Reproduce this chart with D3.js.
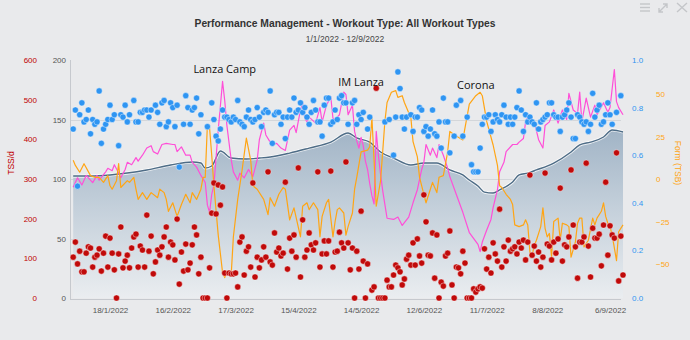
<!DOCTYPE html>
<html><head><meta charset="utf-8">
<script src="https://cdn.jsdelivr.net/npm/d3@7"></script>
<style>
html,body{margin:0;padding:0;background:#e9eaec;}
svg{display:block;font-family:"Liberation Sans",Arial,sans-serif;}
</style></head><body>
<svg id="chart" width="690" height="340"></svg>
<script>
// Season start; every series below is indexed in days since 1 Jan 2022.
const seasonStart = new Date(2022, 0, 1);
const seasonEnd = new Date(2022, 8, 12);

// Fitness (CTL)
const ctlDay = [0,8,17,25,34,45,55,59,61,64,68,73,80,86,91,100,109,119,127,131,137,142,148,156,162,168,174,180,183,187,190,194,197,203,206,210,214,222,230,234,239,245,249,254];
const ctlVal = [102.5,102.5,103.4,105,107.6,111.8,114.3,113.4,109.2,110.9,123.5,117.6,116.8,117.6,118.5,121.8,126,131,138.6,134.5,131,122.7,117.6,111.8,113.4,113.4,107.6,103.4,99.2,94.1,89,88.2,90.8,97.5,103.4,105,107.6,113.4,122.7,128.6,131,135.3,141.2,139.5];

// Fatigue (ATL)
const atlDay = [0,2,4,6,9,11,12,15,16,18,19,21,22,24,25,27,29,30,32,34,36,37,39,41,43,46,47,48,50,52,54,55,57,59,61,62,63,64,65,67,69,70,71,73,74,76,77,79,81,83,85,86,88,89,91,92,94,96,98,100,102,103,105,106,107,108,109,112,114,115,117,119,120,121,123,125,126,127,129,130,131,132,133,134,135,136,137,138,139,140,141,142,143,145,148,150,152,155,157,159,161,162,163,165,166,168,169,171,173,174,177,180,183,187,188,189,191,193,194,196,197,199,200,203,205,206,208,209,210,211,213,215,217,218,220,222,224,226,228,229,231,233,234,235,237,239,241,242,245,247,248,250,251,252,254];
const atlVal = [93,101,95,103,97,103,99,106,109,107,112,105,101,108,114,112,118,115,120,126,128,123,121,129,130,129,129,123,127,120,120,114,110,103,97,78,72,87,95,141,182,166,145,116,106,99,105,101,108,102,116,133,147,137,131,129,130,126,124,141,145,139,158,164,151,148,152,147,160,148,162,169,151,150,154,173,171,154,162,140,132,126,135,128,115,108,96,86,79,140,120,104,90,67,66,68,61,68,80,91,108,114,129,120,126,118,129,120,109,102,87,72,55,45,39,47,57,66,76,91,106,114,123,129,129,131,134,148,152,148,148,133,126,145,148,158,147,158,150,172,158,155,173,148,168,152,162,154,164,156,160,192,165,160,154];

// Form (TSB)
const tsbDay = [0,1,3,5,8,10,12,14,16,17,18,20,21,22,25,26,28,29,30,32,34,36,39,40,42,43,44,46,47,48,50,52,54,55,57,59,60,61,62,63,64,65,67,69,70,71,73,74,76,78,80,82,83,84,85,88,90,91,93,95,97,98,100,102,105,106,108,109,111,113,114,115,117,118,120,121,122,123,125,126,127,129,130,131,133,136,137,138,139,140,142,144,145,147,149,150,152,153,155,156,157,159,160,162,163,165,166,168,169,171,173,174,176,180,183,186,188,189,191,194,196,197,198,200,202,203,204,206,208,209,210,211,212,213,214,216,217,218,219,220,221,222,224,225,226,228,229,230,232,233,234,235,236,238,240,241,242,244,245,246,247,248,249,251,252,254];
const tsbVal = [11,8,4,9,2,1,1,-2,2,-4,-6,-1,9,-5,-1,-2,1,-6,-12,-8,-12,-8,-11,-6,-8,-12,-19,-14,-18,-22,-15,-9,-14,-8,-12,-6,1,1,32,30,14,-4,-33,-55,-58,-55,-56,-34,-12,5,24,11,-4,-5,-6,-12,-21,-11,-16,-9,-5,-6,-24,-17,-34,-16,-14,-18,-14,-18,-34,-22,-14,-12,-34,-25,-18,-17,-20,-33,-28,-20,-6,1,16,17,19,36,11,-16,-1,34,45,51,52,48,49,45,39,36,22,13,1,-9,-14,-6,-2,-8,1,2,16,28,26,23,44,49,51,49,34,20,8,-4,-5,-9,-12,-15,-27,-28,-27,-24,-27,-43,-45,-39,-36,-28,-17,-29,-34,-32,-46,-25,-23,-36,-26,-27,-28,-46,-37,-26,-23,-23,-40,-36,-23,-27,-23,-19,-14,-22,-26,-28,-33,-48,-31,-27];

// Daily training stress (TSS/d)
const tssDay = [0,1,2,3,4,5,6,7,8,9,10,11,12,13,14,15,16,17,18,19,20,21,22,23,24,25,26,27,28,29,30,31,32,33,34,35,36,37,38,39,40,41,42,43,44,45,46,47,48,49,50,51,52,53,54,55,56,57,58,59,60,61,62,63,64,65,66,67,68,69,70,71,72,73,74,75,76,77,78,79,80,81,82,83,84,85,86,87,88,89,90,91,92,93,94,95,96,97,98,99,100,101,102,103,104,105,106,107,108,109,110,111,112,113,114,115,116,117,118,119,120,121,122,123,124,125,126,127,128,129,130,131,132,133,134,135,136,138,139,140,141,142,143,144,145,146,147,148,149,150,151,152,153,154,155,156,157,158,159,160,161,162,163,164,165,166,167,168,169,170,171,172,173,174,175,176,177,178,179,180,181,182,183,184,185,186,187,188,189,190,191,192,193,194,195,196,197,198,199,200,201,202,203,204,205,206,207,208,209,210,211,212,213,214,215,216,217,218,219,220,221,222,223,224,225,226,227,228,229,230,231,232,233,234,235,236,237,238,239,240,241,242,243,244,245,246,247,248,249,250,251,252,253,254];
const tssVal = [103,141,86,118,66,66,113,129,126,78,103,108,124,68,113,156,78,151,113,71,0,111,179,76,93,108,76,126,154,161,78,131,121,78,209,118,156,61,91,121,108,129,154,179,103,141,134,96,199,35,116,68,136,71,88,134,179,159,61,103,0,0,0,76,214,290,212,285,234,280,63,0,63,61,61,63,28,141,154,58,118,129,78,290,53,103,76,96,129,103,318,91,83,164,116,126,106,113,292,73,151,118,159,103,328,53,197,103,121,164,134,121,139,318,78,111,144,111,144,320,78,116,118,166,139,126,343,139,71,126,0,118,73,219,93,0,86,20,28,529,0,0,0,0,45,28,28,58,83,76,66,33,48,98,108,83,139,83,149,106,88,260,192,108,106,164,50,159,0,40,30,106,113,169,33,0,78,76,61,118,88,0,0,0,23,15,23,28,25,124,73,103,63,139,111,93,224,78,129,93,146,118,124,129,111,141,126,146,96,141,310,108,131,93,116,78,103,315,136,131,96,141,113,149,277,93,134,129,154,323,184,129,50,141,141,154,340,131,53,176,151,151,161,81,184,292,108,182,159,151,366,43,156,58];

// Intensity factor per session
const ifDay = [0,1,2,3,4,5,6,7,8,9,10,11,12,13,14,15,16,17,18,19,21,22,23,24,25,26,28,29,30,31,32,33,34,35,36,38,39,40,41,42,43,44,45,46,47,48,49,51,52,53,54,55,56,57,58,59,62,64,65,66,67,68,69,70,71,72,73,74,75,76,77,78,79,80,81,82,83,84,85,86,87,88,89,90,91,92,93,94,95,96,97,98,99,100,101,102,103,104,105,106,107,108,109,110,111,112,113,114,115,116,117,118,119,120,121,122,123,124,125,126,127,129,130,131,132,133,134,136,137,144,146,148,149,150,151,152,153,154,156,157,158,159,160,161,162,163,164,165,166,167,168,169,170,171,172,173,174,176,177,179,180,182,184,185,186,187,188,189,190,191,192,193,194,195,196,197,198,199,200,201,202,203,204,205,206,207,208,209,210,211,212,213,214,215,216,217,218,219,220,221,222,223,224,225,226,227,228,229,230,231,232,233,234,235,236,237,238,239,240,241,242,243,244,245,246,247,248,249,251,253];
const ifVal = [0.71,0.79,0.47,0.77,0.82,0.74,0.75,0.79,0.69,0.75,0.73,0.74,0.87,0.65,0.71,0.73,0.75,0.81,0.75,0.77,0.64,0.77,0.76,0.81,0.74,0.77,0.83,0.74,0.74,0.78,0.78,0.79,0.79,0.76,0.79,0.81,0.78,0.73,0.82,0.83,0.72,0.74,0.82,0.80,0.72,0.81,0.55,0.73,0.85,0.80,0.73,0.79,0.80,0.84,0.69,0.77,0.72,0.82,0.75,0.68,0.66,0.71,0.79,0.76,0.76,0.75,0.74,0.76,0.75,0.83,0.74,0.73,0.72,0.76,0.79,0.75,0.74,0.75,0.80,0.76,0.72,0.78,0.79,0.78,0.87,0.65,0.77,0.78,0.78,0.73,0.76,0.67,0.76,0.79,0.76,0.84,0.78,0.79,0.82,0.78,0.80,0.76,0.73,0.78,0.83,0.79,0.74,0.74,0.68,0.81,0.84,0.84,0.73,0.74,0.79,0.75,0.84,0.85,0.82,0.82,0.73,0.82,0.83,0.73,0.77,0.75,0.78,0.71,0.76,0.74,0.75,0.60,0.76,0.95,0.88,0.76,0.71,0.76,0.77,0.70,0.76,0.76,0.80,0.79,0.70,0.72,0.68,0.71,0.79,0.69,0.68,0.74,0.63,0.84,0.74,0.74,0.61,0.68,0.81,0.83,0.68,0.76,0.56,0.53,0.53,0.53,0.63,0.73,0.76,0.76,0.77,0.70,0.74,0.77,0.75,0.74,0.77,0.81,0.76,0.73,0.76,0.73,0.76,0.80,0.87,0.79,0.70,0.77,0.74,0.76,0.74,0.73,0.82,0.71,0.74,0.75,0.76,0.77,0.82,0.82,0.77,0.76,0.76,0.70,0.76,0.77,0.79,0.82,0.76,0.67,0.67,0.77,0.76,0.74,0.73,0.74,0.70,0.73,0.86,0.76,0.79,0.81,0.73,0.74,0.77,0.82,0.77,0.73,0.78,0.85];

// Axis ticks and event notes
const tssTicks = [0,100,200,300,400,500,600];
const loadTicks = [0,50,100,150,200];
const ifTicks = [0,0.2,0.4,0.6,0.8,1.0];
const tsbTicks = [-50,-25,0,25,50];
const dateTicks = ["2022-01-18","2022-02-16","2022-03-17","2022-04-15","2022-05-14","2022-06-12","2022-07-11","2022-08-08","2022-09-06"];
const noteText = ["Lanza Camp","IM Lanza","Corona"];
const noteDay = [70,133,186];

const dayDate = d => d3.timeDay.offset(seasonStart, d);
const zip = (days, vals) => days.map((d, i) => ({date: dayDate(d), v: vals[i]})).filter(p => p.v !== undefined);

const svg = d3.select("#chart");
const plotTop = 60, plotBottom = 298;

const x = d3.scaleTime().domain([seasonStart, seasonEnd]).range([73.2, 623]);
const yTss = d3.scaleLinear().domain([0, 600]).range([plotBottom, plotTop]);
const yLoad = d3.scaleLinear().domain([0, 200]).range([plotBottom, plotTop]);
const yIf = d3.scaleLinear().domain([0, 1]).range([plotBottom, plotTop]);
const yTsb = d3.scaleLinear().domain([-70, 70]).range([plotBottom, plotTop]);

// background
svg.append("rect").attr("width", 690).attr("height", 340).attr("fill", "#e9eaec");

const defs = svg.append("defs");
const grad = defs.append("linearGradient").attr("id", "fitGrad")
  .attr("gradientUnits", "userSpaceOnUse").attr("x1", 0).attr("x2", 0).attr("y1", 130).attr("y2", plotBottom);
grad.append("stop").attr("offset", 0).attr("stop-color", "#a1b4c6");
grad.append("stop").attr("offset", 0.45).attr("stop-color", "#c3cfda");
grad.append("stop").attr("offset", 1).attr("stop-color", "#eaedf0");

// gridlines
svg.append("g").selectAll("line").data(loadTicks.filter(t => t > 0 && t < 200)).join("line")
  .attr("x1", 71).attr("x2", 621).attr("y1", d => Math.round(yLoad(d)) + 0.5).attr("y2", d => Math.round(yLoad(d)) + 0.5)
  .attr("stroke", "#d3d6da").attr("stroke-width", 1);

// fitness area
const ctl = zip(ctlDay, ctlVal);
svg.append("path").datum(ctl)
  .attr("d", d3.area().x(d => x(d.date)).y0(yLoad(0)).y1(d => yLoad(d.v)).curve(d3.curveMonotoneX))
  .attr("fill", "url(#fitGrad)");
const ctlLine = d3.line().x(d => x(d.date)).y(d => yLoad(d.v)).curve(d3.curveMonotoneX);
svg.append("path").datum(ctl).attr("d", ctlLine)
  .attr("fill", "none").attr("stroke", "#ffffff").attr("stroke-opacity", 0.75).attr("stroke-width", 3.2);
svg.append("path").datum(ctl).attr("d", ctlLine)
  .attr("fill", "none").attr("stroke", "#4e6c86").attr("stroke-width", 1.4);

// axis lines
svg.append("line").attr("x1", 70.5).attr("x2", 70.5).attr("y1", plotTop).attr("y2", plotBottom + 1)
  .attr("stroke", "#c6c9ce");
svg.append("line").attr("x1", 70).attr("x2", 621).attr("y1", plotBottom + 1.5).attr("y2", plotBottom + 1.5)
  .attr("stroke", "#c6c9ce");

// fatigue and form lines
svg.append("path").datum(zip(atlDay, atlVal))
  .attr("d", d3.line().x(d => x(d.date)).y(d => yLoad(d.v)))
  .attr("fill", "none").attr("stroke", "#ff4fd8").attr("stroke-width", 1.2).attr("stroke-linejoin", "round");
svg.append("path").datum(zip(tsbDay, tsbVal))
  .attr("d", d3.line().x(d => x(d.date)).y(d => yTsb(d.v)))
  .attr("fill", "none").attr("stroke", "#ffa514").attr("stroke-width", 1.2).attr("stroke-linejoin", "round");

// intensity and stress dots
svg.append("g").selectAll("circle").data(zip(ifDay, ifVal)).join("circle")
  .attr("cx", d => x(d.date)).attr("cy", d => yIf(d.v)).attr("r", 3.1)
  .attr("fill", "#2f95f2").attr("stroke", "#ffffff").attr("stroke-opacity", 0.7).attr("stroke-width", 0.6);
svg.append("g").selectAll("circle").data(zip(tssDay, tssVal)).join("circle")
  .attr("cx", d => x(d.date)).attr("cy", d => yTss(d.v)).attr("r", 3.1)
  .attr("fill", "#c00a0a").attr("stroke", "#ffffff").attr("stroke-opacity", 0.7).attr("stroke-width", 0.6);

// axes
function styleAxis(g, color) {
  g.select(".domain").remove();
  g.selectAll(".tick line").remove();
  g.selectAll("text").attr("fill", color).attr("font-size", 8).attr("font-family", "Liberation Sans, Arial, sans-serif");
}
svg.append("g").attr("transform", "translate(37,0)")
  .call(d3.axisLeft(yTss).tickValues(tssTicks).tickSize(0).tickPadding(0))
  .call(g => styleAxis(g, "#c00000"));
svg.append("g").attr("transform", "translate(66,0)")
  .call(d3.axisLeft(yLoad).tickValues(loadTicks).tickSize(0).tickPadding(0))
  .call(g => styleAxis(g, "#555555"));
svg.append("g").attr("transform", "translate(632,0)")
  .call(d3.axisRight(yIf).tickValues(ifTicks).tickFormat(d3.format(".1f")).tickSize(0).tickPadding(0))
  .call(g => styleAxis(g, "#2f95f2"));
svg.append("g").attr("transform", "translate(656,0)")
  .call(d3.axisRight(yTsb).tickValues(tsbTicks).tickSize(0).tickPadding(0))
  .call(g => styleAxis(g, "#ffa514"));
svg.append("g").attr("transform", `translate(0,${plotBottom + 1})`)
  .call(d3.axisBottom(x).tickValues(dateTicks.map(s => d3.timeParse("%Y-%m-%d")(s)))
    .tickFormat(d3.timeFormat("%-d/%-m/%Y")).tickSize(0).tickPadding(8))
  .call(g => styleAxis(g, "#555555"));

// axis titles
svg.append("text").attr("transform", "translate(14,163) rotate(-90)").attr("text-anchor", "middle")
  .attr("font-size", 8.5).attr("fill", "#c00000").text("TSS/d");
svg.append("text").attr("transform", "translate(675,163) rotate(90)").attr("text-anchor", "middle")
  .attr("font-size", 8.5).attr("fill", "#ffa514").text("Form (TSB)");

// titles
svg.append("text").attr("x", 345).attr("y", 27).attr("text-anchor", "middle")
  .attr("font-size", 10.3).attr("font-weight", "bold").attr("fill", "#333").text("Performance Management - Workout Type: All Workout Types");
svg.append("text").attr("x", 345).attr("y", 42).attr("text-anchor", "middle")
  .attr("font-size", 8.5).attr("fill", "#444").text("1/1/2022 - 12/9/2022");

// event notes
const noteY = [73, 86, 89];
svg.append("g").selectAll("text").data(noteText).join("text")
  .attr("x", (d, i) => x(dayDate(noteDay[i]))).attr("y", (d, i) => noteY[i])
  .attr("text-anchor", "middle").attr("font-family", "Open Sans, sans-serif").attr("font-size", 11)
  .attr("fill", "#111").text(d => d);

// toolbar icons
const icons = svg.append("g").attr("stroke", "#c4c6c9").attr("stroke-width", 1.4).attr("fill", "none");
[4, 7.5, 11].forEach(yy => icons.append("line").attr("x1", 640).attr("x2", 650).attr("y1", yy).attr("y2", yy));
icons.append("path").attr("d", "M659,12 L667,4 M663,4 L667,4 L667,8 M659,8 L659,12 L663,12");
icons.append("path").attr("d", "M677,3 L687,12 M687,3 L677,12");
</script>
</body></html>
